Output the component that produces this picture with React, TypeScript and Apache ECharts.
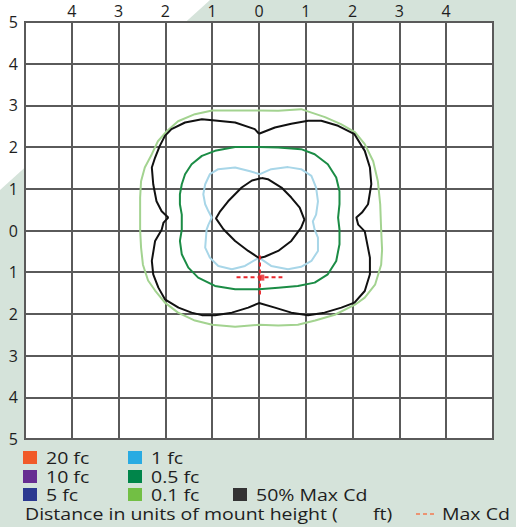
import React, { useEffect, useRef } from "react";
import * as echarts from "echarts";

// Tick labels (absolute distances in mounting heights)
const xTickLabels = ["", "4", "3", "2", "1", "0", "1", "2", "3", "4", ""];
const yTickLabels = ["5", "4", "3", "2", "1", "0", "1", "2", "3", "4", "5"]; // top to bottom

// Iso-footcandle / candela contours, [x, y] in mounting heights
const contour01fc: number[][] = [
  [0, 2.88], [0.41, 2.87], [0.9, 2.91], [1.41, 2.72], [1.75, 2.55], [2.05, 2.36], [2.26, 2.07],
  [2.44, 1.66], [2.54, 1.18], [2.59, 0.63], [2.61, 0.02], [2.63, -0.46], [2.61, -0.82], [2.48, -1.3],
  [2.26, -1.61], [2.05, -1.78], [1.62, -2.02], [1.2, -2.16], [0.83, -2.26], [0.41, -2.28], [0, -2.26],
  [-0.51, -2.31], [-1.0, -2.26], [-1.37, -2.16], [-1.73, -1.97], [-2.01, -1.73], [-2.22, -1.44],
  [-2.37, -1.2], [-2.48, -0.82], [-2.52, -0.41], [-2.54, 0.02], [-2.54, 0.79], [-2.52, 1.18],
  [-2.44, 1.51], [-2.29, 1.83], [-2.16, 2.14], [-1.97, 2.38], [-1.73, 2.62], [-1.37, 2.79],
  [-1.0, 2.88], [-0.51, 2.88], [0, 2.88],
];
const contourMaxCdOuter: number[][] = [
  [0, 2.32], [0.34, 2.47], [0.69, 2.56], [1.05, 2.63], [1.33, 2.63], [1.69, 2.51], [2.04, 2.31],
  [2.26, 1.91], [2.37, 1.51], [2.4, 1.11], [2.33, 0.63], [2.2, 0.43], [2.08, 0.31], [2.12, 0.14],
  [2.26, -0.02], [2.37, -0.65], [2.37, -1.05], [2.26, -1.45], [2.04, -1.73], [1.76, -1.85],
  [1.4, -1.97], [1.05, -2.03], [0.69, -1.97], [0.34, -1.85], [0, -1.74], [-0.23, -1.85],
  [-0.58, -1.97], [-0.94, -2.03], [-1.22, -2.03], [-1.44, -1.97], [-1.72, -1.85], [-2.01, -1.65],
  [-2.15, -1.37], [-2.26, -1.05], [-2.29, -0.73], [-2.22, -0.25], [-2.08, 0.02], [-2.04, 0.19],
  [-1.94, 0.31], [-2.08, 0.46], [-2.19, 0.7], [-2.26, 1.11], [-2.29, 1.51], [-2.22, 1.75],
  [-2.12, 2.03], [-2.01, 2.27], [-1.87, 2.43], [-1.58, 2.59], [-1.22, 2.67], [-0.94, 2.64],
  [-0.51, 2.59], [-0.09, 2.43], [0, 2.32],
];
const contour05fc: number[][] = [
  [0, 2.0], [0.41, 1.99], [0.9, 1.95], [1.19, 1.83], [1.47, 1.59], [1.65, 1.27], [1.72, 0.94],
  [1.72, 0.63], [1.69, 0.31], [1.72, 0.02], [1.72, -0.33], [1.65, -0.73], [1.47, -1.05],
  [1.19, -1.25], [0.83, -1.33], [0.41, -1.37], [0, -1.41], [-0.51, -1.41], [-0.94, -1.33],
  [-1.3, -1.13], [-1.51, -0.89], [-1.65, -0.57], [-1.69, -0.25], [-1.65, 0.02], [-1.65, 0.38],
  [-1.69, 0.63], [-1.69, 0.87], [-1.65, 1.11], [-1.58, 1.35], [-1.44, 1.59], [-1.22, 1.79],
  [-0.94, 1.91], [-0.51, 2.0], [0, 2.0],
];
const contour1fc: number[][] = [
  [0.02, 1.35], [0.26, 1.47], [0.62, 1.52], [0.9, 1.47], [1.12, 1.31], [1.22, 1.03], [1.26, 0.7],
  [1.22, 0.38], [1.15, 0.22], [1.19, 0.02], [1.26, -0.17], [1.26, -0.49], [1.12, -0.73],
  [0.9, -0.87], [0.62, -0.93], [0.26, -0.85], [0, -0.65], [-0.3, -0.85], [-0.58, -0.93],
  [-0.87, -0.85], [-1.05, -0.65], [-1.15, -0.41], [-1.12, 0.02], [-1.08, 0.14], [-1.01, 0.31],
  [-1.08, 0.46], [-1.15, 0.63], [-1.19, 0.87], [-1.15, 1.11], [-1.05, 1.35], [-0.87, 1.47],
  [-0.51, 1.51], [-0.19, 1.42], [0.02, 1.35],
];
const contourMaxCdInner: number[][] = [
  [0.06, 1.26], [0.19, 1.23], [0.48, 1.03], [0.69, 0.79], [0.87, 0.55], [0.97, 0.26], [0.9, 0.07],
  [0.69, -0.25], [0.41, -0.49], [0.12, -0.63], [0, -0.66], [-0.23, -0.49], [-0.51, -0.25],
  [-0.76, 0.03], [-0.92, 0.29], [-0.83, 0.46], [-0.66, 0.7], [-0.37, 1.03], [-0.15, 1.2], [0.06, 1.26],
];
const maxCdVertical: number[][] = [[0.02, -0.6], [0.02, -1.58]];
const maxCdHorizontal: number[][] = [[-0.48, -1.12], [0.5, -1.12]];
const maxCdPoint: number[][] = [[0.05, -1.13]];

// Legend
const legendLabels = ["20 fc", "10 fc", "5 fc", "1 fc", "0.5 fc", "0.1 fc", "50% Max Cd"];
const legendColors = ["#f15a29", "#662d91", "#2b3990", "#29abe2", "#00854a", "#72bf44", "#333333"];
const footerLabel = "Distance in units of mount height (";
const footerUnit = "ft)";
const maxCdLabel = "Max Cd";

const FONT = "'Open Sans', 'Noto Sans', sans-serif";

export default function App() {
  const ref = useRef<HTMLDivElement>(null);
  useEffect(() => {
    if (!ref.current) return;
    const chart = echarts.init(ref.current, undefined, { renderer: "svg" });

    const legendPos = [
      [23, 451], [23, 470], [23, 488],
      [128, 451], [128, 470], [128, 488],
      [233, 488],
    ];
    const textStyle = (text: string) => ({
      text, fill: "#1e1e1e", font: `16px ${FONT}`, verticalAlign: "middle", align: "left",
    });
    const graphics: any[] = [];
    legendLabels.forEach((lab, i) => {
      const [x, y] = legendPos[i];
      graphics.push({ type: "rect", shape: { x, y, width: 14, height: 13 }, style: { fill: legendColors[i] } });
      graphics.push({ type: "text", x: x + 23, y: y + 6.5, scaleX: 1.22, style: textStyle(lab) });
    });
    graphics.push({ type: "text", x: 25, y: 514, scaleX: 1.22, style: textStyle(footerLabel) });
    graphics.push({ type: "text", x: 373, y: 514, scaleX: 1.22, style: textStyle(footerUnit) });
    graphics.push({
      type: "line", shape: { x1: 416, y1: 514, x2: 434, y2: 514 },
      style: { stroke: "#f47b50", lineWidth: 1.5, lineDash: [4, 3] },
    });
    graphics.push({ type: "text", x: 442, y: 514, scaleX: 1.22, style: textStyle(maxCdLabel) });

    const lineSeries = (data: number[][], color: string, z: number) => ({
      type: "line",
      data,
      showSymbol: false,
      symbol: "none",
      smooth: false,
      lineStyle: { color, width: 2 },
      z,
      silent: true,
    });

    chart.setOption({
      animation: false,
      grid: {
        left: 25, top: 22, width: 468, height: 417, show: true,
        backgroundColor: "#ffffff", borderColor: "#555555", borderWidth: 2,
      },
      xAxis: {
        type: "value", min: -5, max: 5, interval: 1, position: "top",
        axisLine: { show: false }, axisTick: { show: false },
        splitLine: { show: true, lineStyle: { color: "#5a5a5a", width: 2 } },
        axisLabel: {
          formatter: (v: number) => xTickLabels[Math.round(v) + 5],
          fontSize: 16, color: "#1e1e1e", margin: 3, fontFamily: FONT,
        },
      },
      yAxis: {
        type: "value", min: -5, max: 5, interval: 1,
        axisLine: { show: false }, axisTick: { show: false },
        splitLine: { show: true, lineStyle: { color: "#5a5a5a", width: 2 } },
        axisLabel: {
          formatter: (v: number) => yTickLabels[5 - Math.round(v)],
          fontSize: 16, color: "#1e1e1e", margin: 7, fontFamily: FONT,
        },
      },
      series: [
        lineSeries(contour01fc, "#a3d390", 3),
        lineSeries(contourMaxCdOuter, "#111111", 4),
        lineSeries(contour05fc, "#1b8c45", 5),
        lineSeries(contour1fc, "#a8d6e8", 6),
        lineSeries(contourMaxCdInner, "#111111", 7),
        {
          type: "line", data: maxCdVertical, symbol: "none", z: 8,
          lineStyle: { color: "#e8262b", width: 2, type: [4, 3] },
        },
        {
          type: "line", data: maxCdHorizontal, symbol: "none", z: 8,
          lineStyle: { color: "#e8262b", width: 2, type: [4, 3] },
        },
        {
          type: "scatter", data: maxCdPoint, symbol: "rect", symbolSize: 6, z: 9,
          itemStyle: { color: "#e8262b" },
        },
      ],
      graphic: graphics,
    });
    return () => chart.dispose();
  }, []);

  return (
    <div style={{ position: "fixed", left: 0, top: 0, width: 516, height: 527, background: "#d5e3da", overflow: "hidden" }}>
      <div style={{ position: "absolute", left: 0, top: 0, width: 516, height: 527, background: "#ffffff", clipPath: "polygon(0 0, 210px 0, 0 190px)" }} />
      <div ref={ref} style={{ position: "absolute", left: 0, top: 0, width: 516, height: 527 }} />
    </div>
  );
}
